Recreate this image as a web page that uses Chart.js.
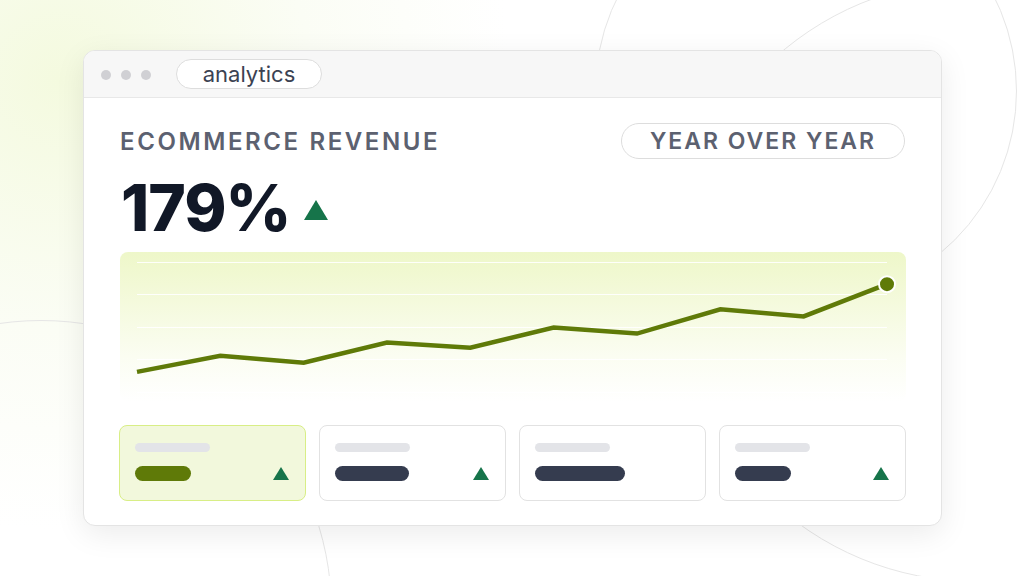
<!DOCTYPE html>
<html><head><meta charset="utf-8">
<script src="https://cdn.jsdelivr.net/npm/chart.js@4"></script>
<style>
body{margin:0;width:1024px;height:576px;overflow:hidden;font-family:Inter,"Noto Sans",sans-serif;background:radial-gradient(circle at 60px 80px,#f4fadf 0,#fbfdf5 250px,#fff 450px);position:relative}
.circ{position:absolute;border:1.5px solid #e6e6e6;border-radius:50%}
.win{position:absolute;left:83px;top:50px;width:857px;height:474px;background:#fff;border:1px solid #e4e4e4;border-radius:12px;box-shadow:0 8px 30px rgba(0,0,0,.08);overflow:hidden}
.bar{height:46px;background:#f7f7f7;border-bottom:1px solid #e8e8e8;position:relative}
.dot{position:absolute;top:19px;width:10px;height:10px;border-radius:50%;background:#d0d0d4}
.tab{position:absolute;left:92px;top:8px;width:144px;height:28px;border:1.5px solid #ddd;border-radius:15px;background:#fff;font-size:22px;color:#3b4252;text-align:center;line-height:28px}
.t1{position:absolute;left:36px;top:76px;font-size:24px;font-weight:600;letter-spacing:2.6px;color:#5c6170}
.yoy{position:absolute;left:537px;top:72px;width:282px;height:34px;border:1.5px solid #ddd;border-radius:18px;font-size:23px;font-weight:600;letter-spacing:2px;color:#5c6170;text-align:center;line-height:34px}
.big{position:absolute;left:37px;top:118px;font-size:64px;font-weight:800;letter-spacing:-1px;color:#111827}
.tri{position:absolute;width:0;height:0;border-left:12px solid transparent;border-right:12px solid transparent;border-bottom:20px solid #16744a}
.plot{position:absolute;left:36px;top:201px;width:786px;height:150px;border-radius:8px;background:linear-gradient(#eef7c9,#fbfdf2 70%,#fff)}
.card{position:absolute;top:374px;width:185px;height:74px;border:1.5px solid #e2e2e2;border-radius:8px;background:#fff}
.l1{position:absolute;left:15px;top:17px;width:75px;height:9px;border-radius:5px;background:#e3e4e8}
.l2{position:absolute;left:15px;top:40px;height:15px;border-radius:8px;background:#353c4f}
.st{position:absolute;left:153px;top:41px;width:0;height:0;border-left:8px solid transparent;border-right:8px solid transparent;border-bottom:13px solid #16744a}
</style></head><body>
<div class="circ" style="left:595px;top:-120px;width:420px;height:420px"></div>
<div class="circ" style="left:675px;top:-20px;width:600px;height:600px"></div>
<div class="circ" style="left:-250px;top:320px;width:580px;height:580px"></div>
<div class="win">
 <div class="bar"><div class="dot" style="left:17px"></div><div class="dot" style="left:37px"></div><div class="dot" style="left:57px"></div><div class="tab">analytics</div></div>
 <div class="t1">ECOMMERCE REVENUE</div>
 <div class="yoy">YEAR OVER YEAR</div>
 <div class="big">179%</div>
 <div class="tri" style="left:220px;top:149px"></div>
 <div class="plot"><canvas id="c" width="786" height="150"></canvas></div>
 <div class="card" style="left:35px;background:#f2f8dc;border-color:#d8ee86"><div class="l1"></div><div class="l2" style="width:56px;background:#5f7a08"></div><div class="st"></div></div>
 <div class="card" style="left:235px"><div class="l1"></div><div class="l2" style="width:74px"></div><div class="st"></div></div>
 <div class="card" style="left:435px"><div class="l1"></div><div class="l2" style="width:90px"></div></div>
 <div class="card" style="left:635px"><div class="l1"></div><div class="l2" style="width:56px"></div><div class="st"></div></div>
</div>
<script>
const categories=["1","2","3","4","5","6","7","8","9","10"];
const revenue=[30,46,39,59,54,74,68,92,85,117];
const radii=revenue.map((v,i)=>i===revenue.length-1?8:0);
new Chart(document.getElementById('c'),{type:'line',
data:{labels:categories,datasets:[{data:revenue,borderColor:'#5f7a08',borderWidth:4.5,tension:0,pointRadius:radii,pointBackgroundColor:'#5f7a08',pointBorderColor:'#fff',pointBorderWidth:2,fill:false}]},
options:{responsive:false,animation:false,layout:{padding:{left:17,right:19,top:0,bottom:0}},
plugins:{legend:{display:false},tooltip:{enabled:false}},
scales:{x:{display:false},y:{min:10,max:139,ticks:{display:false,stepSize:32.25},border:{display:false},grid:{color:'rgba(255,255,255,0.9)',drawTicks:false}}}}});
</script></body></html>
